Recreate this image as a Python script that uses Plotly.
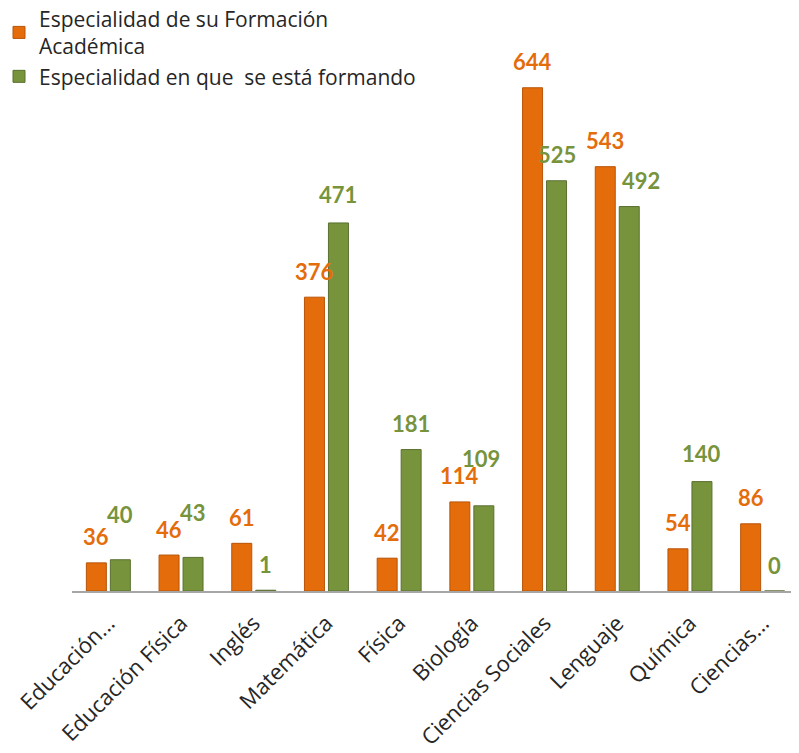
import plotly.graph_objects as go

categories = ["Educación...", "Educación Física", "Inglés", "Matemática", "Física",
              "Biología", "Ciencias Sociales", "Lenguaje", "Química", "Ciencias..."]
formacion = [36, 46, 61, 376, 42, 114, 644, 543, 54, 86]
formando = [40, 43, 1, 471, 181, 109, 525, 492, 140, 0]

series_names = ["Especialidad de su Formación<br>Académica",
                "Especialidad en que  se está formando"]

# label nudges (pixels) for the green series, to mirror the reference placement
green_dx = [0, 0, 0, 0, 0, -3, 0, 12, 0, 0]
green_dy = [19, 19, 0, 2, 0, 21, 0, 0, 2, 0]

ORANGE = "#E46C0A"
ORANGE_LINE = "#B85407"
GREEN = "#77933C"
GREEN_LINE = "#5A7030"
TEXT = "#262626"
FONT = "Open Sans"

idx = list(range(len(categories)))
half = 0.165
bw = 0.275

fig = go.Figure()
fig.add_trace(go.Bar(
    x=idx, y=formacion, name=series_names[0],
    width=bw, offset=-half - bw / 2,
    marker=dict(color=ORANGE, line=dict(color=ORANGE_LINE, width=1)),
))
fig.add_trace(go.Bar(
    x=idx, y=formando, name=series_names[1],
    width=bw, offset=half - bw / 2,
    marker=dict(color=GREEN, line=dict(color=GREEN_LINE, width=1)),
))

annotations = []
for i, v in enumerate(formacion):
    annotations.append(dict(
        x=i - half, y=v, xref="x", yref="y", text=str(v), showarrow=False,
        yshift=26, font=dict(family="Lato", size=22, color=ORANGE, weight="bold"),
    ))
for i, v in enumerate(formando):
    annotations.append(dict(
        x=i + half, y=v, xref="x", yref="y", text=str(v), showarrow=False,
        xshift=green_dx[i], yshift=26 + green_dy[i],
        font=dict(family="Lato", size=22, color=GREEN, weight="bold"),
    ))

fig.update_layout(
    width=791, height=745,
    margin=dict(l=64, r=0, t=36, b=162, autoexpand=False),
    paper_bgcolor="white", plot_bgcolor="white",
    barmode="overlay",
    font=dict(family=FONT, color=TEXT),
    annotations=annotations,
    legend=dict(
        xref="paper", yref="paper", x=-0.1004, y=1.083,
        xanchor="left", yanchor="top",
        font=dict(family=FONT, size=21, color=TEXT),
        bgcolor="rgba(0,0,0,0)", itemwidth=30, tracegroupgap=6,
    ),
    xaxis=dict(
        range=[-0.5, 9.5], tickvals=idx, ticktext=categories,
        tickangle=-45, showgrid=False, zeroline=False,
        showline=True, linecolor="#A6A6A6", linewidth=1.5,
        ticks="", ticklabelstandoff=9,
        tickfont=dict(family=FONT, size=22, color=TEXT),
    ),
    yaxis=dict(
        range=[0, 700], visible=False, showgrid=False, zeroline=False,
    ),
    showlegend=True,
)

fig.write_html("out.html")
